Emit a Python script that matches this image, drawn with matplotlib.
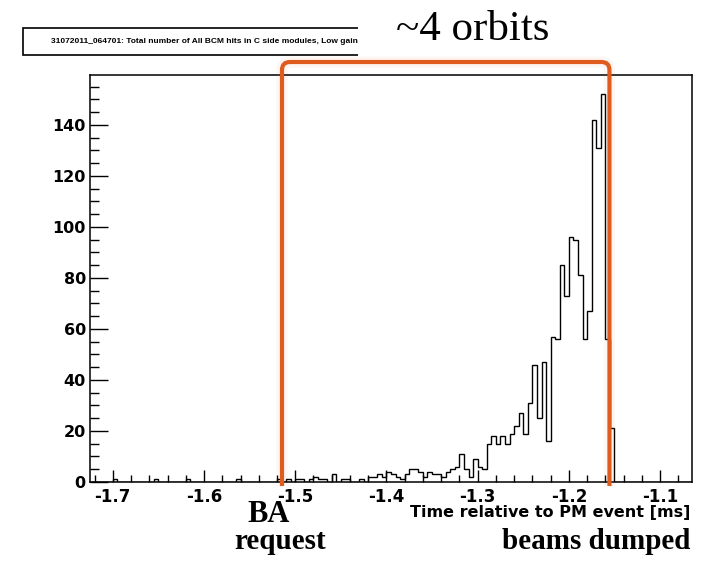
import numpy as np
import matplotlib
matplotlib.use("Agg")
import matplotlib.pyplot as plt
from matplotlib.patches import Rectangle, PathPatch
from matplotlib.path import Path
from matplotlib.ticker import MultipleLocator, FixedLocator

# BCM hit counts per 5 us bin, starting at -1.725 ms
bin_start = -1.725
bin_width = 0.005
hit_counts = [
    0, 0, 0, 0, 0, 1, 0, 0, 0, 0,
    0, 0, 0, 0, 1, 0, 0, 0, 0, 0,
    0, 1, 0, 0, 0, 0, 0, 0, 0, 0,
    0, 0, 1, 0, 0, 0, 0, 0, 0, 0,
    0, 1, 0, 1, 0, 1, 1, 0, 1, 2,
    1, 1, 0, 3, 0, 1, 1, 0, 0, 1,
    0, 2, 2, 3, 2, 4, 3, 2, 1, 3,
    5, 5, 4, 2, 4, 3, 3, 2, 4, 5,
    6, 11, 5, 2, 9, 6, 5, 15, 18, 15,
    18, 15, 19, 22, 27, 19, 31, 46, 25, 47,
    16, 57, 56, 85, 73, 96, 95, 81, 56, 67,
    142, 131, 152, 56, 21, 0, 0, 0, 0, 0,
    0, 0, 0, 0, 0, 0, 0, 0, 0, 0,
    0, 0,
]

x_ticks = [-1.7, -1.6, -1.5, -1.4, -1.3, -1.2, -1.1]
y_ticks = [0, 20, 40, 60, 80, 100, 120, 140]

ba_request_time = -1.5145
beam_dump_time = -1.1555

title = "31072011_064701: Total number of All BCM hits in C side modules, Low gain"
x_title = "Time relative to PM event [ms]"

W, H = 706, 566
ORANGE = "#e05c1e"

plt.rcParams["axes.unicode_minus"] = False
plt.rcParams["font.family"] = ["DejaVu Sans"]


def fx(px):
    return px / W


def fy(py):
    return 1 - py / H


fig = plt.figure(figsize=(W / 100, H / 100), dpi=100)
ax = fig.add_axes([fx(90), fy(482), (692 - 90) / W, (482 - 75) / H])

edges = bin_start + bin_width * np.arange(len(hit_counts) + 1)
ax.stairs(hit_counts, edges, color="black", lw=1.0)

ax.set_xlim(edges[0], edges[-1])
ax.set_ylim(0, max(hit_counts) * 1.05)

ax.xaxis.set_major_locator(FixedLocator(x_ticks))
ax.xaxis.set_minor_locator(MultipleLocator(0.02))
ax.yaxis.set_major_locator(FixedLocator(y_ticks))
ax.yaxis.set_minor_locator(MultipleLocator(5))
ax.set_xticklabels([f"{t:.1f}" for t in x_ticks])
ax.set_yticklabels([str(t) for t in y_ticks])

ax.tick_params(axis="both", which="both", direction="in", top=False, right=False,
               width=1.0)
ax.tick_params(axis="x", which="major", length=8.6, pad=4.5, labelsize=12)
ax.tick_params(axis="x", which="minor", length=5)
ax.tick_params(axis="y", which="major", length=13, pad=3, labelsize=11.5)
ax.tick_params(axis="y", which="minor", length=6.5)
for lab in ax.get_xticklabels() + ax.get_yticklabels():
    lab.set_fontweight("bold")
for sp in ax.spines.values():
    sp.set_linewidth(1.1)

# title box (ROOT style pave)
fig.patches.append(Rectangle((fx(22.7), fy(55)), (380 - 22.7) / W, (55 - 28) / H,
                             transform=fig.transFigure, fill=False, lw=1.2,
                             edgecolor="black", zorder=1))
fig.text(fx(50.7), fy(41.5), title, fontsize=6.0, fontweight="bold",
         family=["Liberation Sans", "DejaVu Sans"], ha="left", va="center", zorder=2)

fig.text(fx(690), fy(513), x_title, fontsize=11.5, fontweight="bold",
         ha="right", va="center")

# white label area for the orbit span
fig.patches.append(Rectangle((fx(358), fy(58)), (562 - 358) / W, 58 / H,
                             transform=fig.transFigure, facecolor="white",
                             edgecolor="none", zorder=4))

serif = ["Liberation Serif", "DejaVu Serif"]
fig.text(fx(473), fy(40), "~4 orbits", fontsize=31, family=serif,
         ha="center", va="baseline", zorder=5)
fig.text(fx(269), fy(522), "BA", fontsize=22, family=serif, fontweight="bold",
         ha="center", va="baseline", zorder=5)
fig.text(fx(280), fy(549), "request", fontsize=21, family=serif, fontweight="bold",
         ha="center", va="baseline", zorder=5)
fig.text(fx(690), fy(549), "beams dumped", fontsize=21, family=serif, fontweight="bold",
         ha="right", va="baseline", zorder=5)

# bracket spanning BA request to beam dump
fig.canvas.draw()
inv = fig.transFigure.inverted()
xl = inv.transform(ax.transData.transform((ba_request_time, 0)))[0]
xr = inv.transform(ax.transData.transform((beam_dump_time, 0)))[0]
y_top = fy(62)
y_bot = fy(486)
rx = 8 / W
ry = 8 / H
verts = [
    (xl, y_bot), (xl, y_top - ry), (xl, y_top), (xl + rx, y_top),
    (xr - rx, y_top), (xr, y_top), (xr, y_top - ry), (xr, y_bot),
]
codes = [Path.MOVETO, Path.LINETO, Path.CURVE3, Path.CURVE3,
         Path.LINETO, Path.CURVE3, Path.CURVE3, Path.LINETO]
bracket = Path(verts, codes)
fig.patches.append(PathPatch(bracket, transform=fig.transFigure, fill=False,
                             edgecolor=ORANGE, lw=8, alpha=0.05, zorder=6))
fig.patches.append(PathPatch(bracket, transform=fig.transFigure, fill=False,
                             edgecolor=ORANGE, lw=3.0, capstyle="butt",
                             joinstyle="round", zorder=7))

fig.savefig("out.png", dpi=100)
